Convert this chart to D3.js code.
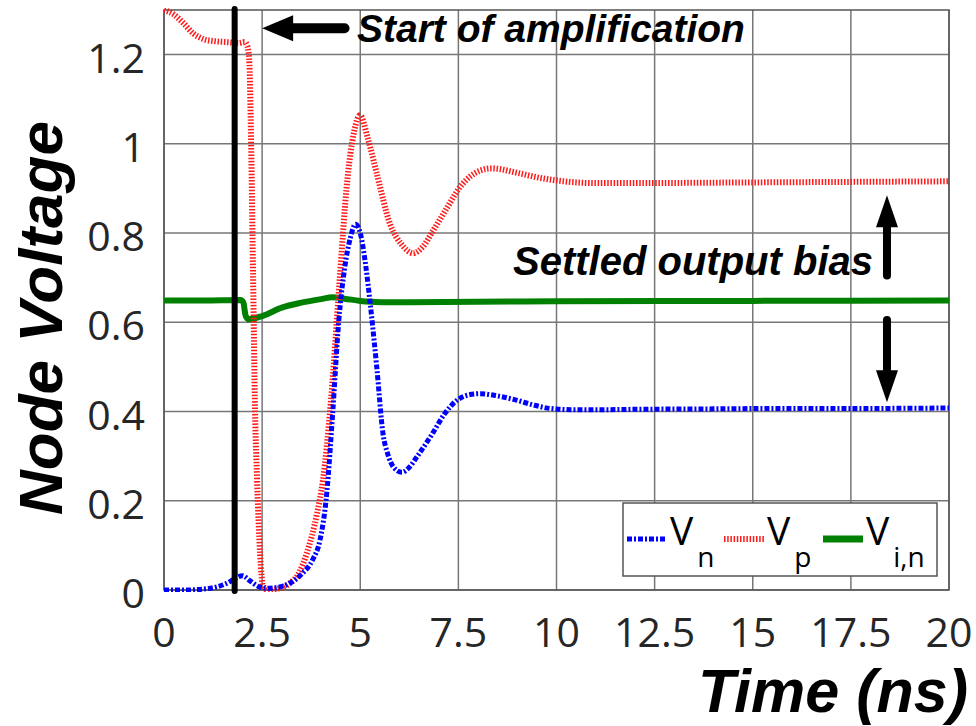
<!DOCTYPE html>
<html>
<head>
<meta charset="utf-8">
<script src="https://cdn.jsdelivr.net/npm/d3@7"></script>
<style>
  body { margin: 0; background: #fff; }
  svg { display: block; }
</style>
</head>
<body>
<svg id="chart" width="976" height="726"></svg>
<script>
// Time axis (ns) and node voltages.
const xTicks = [0, 2.5, 5, 7.5, 10, 12.5, 15, 17.5, 20];
const yTicks = [0, 0.2, 0.4, 0.6, 0.8, 1, 1.2];

const tVn = [0, 0.5, 1.0, 1.3, 1.6, 1.8, 2.0, 2.2, 2.4, 2.6, 2.9, 3.2, 3.5, 3.8, 3.97, 4.15, 4.3, 4.45, 4.6, 4.75, 4.88, 5.0, 5.15, 5.25, 5.42, 5.58, 5.7, 5.85, 6.06, 6.25, 6.44, 6.85, 7.15, 7.46, 7.75, 8.05, 8.5, 9.0, 9.4, 9.83, 10.5, 11, 12, 14, 16, 18, 20];
const vn  = [0, 0, 0.002, 0.006, 0.015, 0.025, 0.032, 0.02, 0.008, 0.004, 0.006, 0.015, 0.035, 0.07, 0.11, 0.22, 0.4, 0.6, 0.72, 0.79, 0.82, 0.8, 0.72, 0.645, 0.5, 0.35, 0.305, 0.275, 0.264, 0.275, 0.298, 0.352, 0.395, 0.425, 0.437, 0.44, 0.435, 0.425, 0.415, 0.407, 0.404, 0.404, 0.405, 0.406, 0.407, 0.407, 0.408];

const tVp = [0, 0.25, 0.5, 0.75, 1.0, 1.3, 1.6, 1.9, 2.05, 2.12, 2.17, 2.22, 2.27, 2.32, 2.37, 2.45, 2.52, 2.65, 2.9, 3.2, 3.45, 3.64, 3.9, 4.05, 4.25, 4.48, 4.65, 4.85, 4.99, 5.2, 5.42, 5.76, 6.05, 6.35, 6.6, 6.86, 7.2, 7.54, 8.05, 8.35, 9.0, 9.5, 10, 11, 12, 14, 16, 18, 20];
const vp  = [1.3, 1.29, 1.27, 1.247, 1.235, 1.23, 1.228, 1.226, 1.228, 1.22, 1.19, 1.0, 0.7, 0.4, 0.25, 0.08, 0.01, 0.0, 0.003, 0.015, 0.04, 0.083, 0.172, 0.246, 0.42, 0.70, 0.9, 1.03, 1.064, 1.01, 0.934, 0.82, 0.775, 0.755, 0.77, 0.806, 0.855, 0.903, 0.94, 0.945, 0.935, 0.925, 0.918, 0.912, 0.912, 0.913, 0.914, 0.915, 0.916];

const tVin = [0, 1.0, 1.95, 2.02, 2.08, 2.15, 2.5, 3.0, 3.5, 4.0, 4.3, 4.6, 5.0, 5.3, 5.6, 6, 8, 10, 15, 20];
const vin  = [0.649, 0.649, 0.65, 0.645, 0.615, 0.607, 0.614, 0.633, 0.644, 0.652, 0.656, 0.653, 0.648, 0.646, 0.645, 0.645, 0.646, 0.647, 0.648, 0.649];

const startT = 1.8;

const svg = d3.select("#chart");
const x = d3.scaleLinear().domain([0, 20]).range([164, 949]);
const y = d3.scaleLinear().domain([0, 1.3]).range([590, 10]);

const tickFont = "'Open Sans', 'Noto Sans', sans-serif";
const boldFont = "'Liberation Sans', Arial, sans-serif";

// grid
svg.append("g")
  .selectAll("line")
  .data(xTicks)
  .join("line")
  .attr("x1", d => x(d)).attr("x2", d => x(d))
  .attr("y1", y(1.3)).attr("y2", y(0))
  .attr("stroke", "#777").attr("stroke-width", 1.5);
svg.append("g")
  .selectAll("line")
  .data(yTicks)
  .join("line")
  .attr("x1", x(0)).attr("x2", x(20))
  .attr("y1", d => y(d)).attr("y2", d => y(d))
  .attr("stroke", "#777").attr("stroke-width", 1.5);
svg.append("rect")
  .attr("x", x(0)).attr("y", y(1.3))
  .attr("width", x(20) - x(0)).attr("height", y(0) - y(1.3))
  .attr("fill", "none").attr("stroke", "#555").attr("stroke-width", 1.5);

// tick labels
svg.append("g")
  .selectAll("text")
  .data(xTicks)
  .join("text")
  .attr("x", d => x(d)).attr("y", 647)
  .attr("text-anchor", "middle")
  .attr("font-family", tickFont).attr("font-size", 41)
  .attr("fill", "#262626")
  .text(d => d3.format("~g")(d));
svg.append("g")
  .selectAll("text")
  .data(yTicks)
  .join("text")
  .attr("x", 145).attr("y", d => y(d) + 18)
  .attr("text-anchor", "end")
  .attr("font-family", tickFont).attr("font-size", 41)
  .attr("fill", "#262626")
  .text(d => d3.format("~g")(d));

// axis titles
svg.append("text")
  .attr("transform", "translate(62,318) rotate(-90)")
  .attr("text-anchor", "middle")
  .attr("font-family", boldFont).attr("font-size", 62)
  .attr("font-weight", "bold").attr("font-style", "italic")
  .text("Node Voltage");
svg.append("text")
  .attr("x", 968).attr("y", 712)
  .attr("text-anchor", "end")
  .attr("font-family", boldFont).attr("font-size", 61)
  .attr("font-weight", "bold").attr("font-style", "italic")
  .text("Time (ns)");

// curves
svg.append("clipPath").attr("id", "plotClip")
  .append("rect")
  .attr("x", x(0)).attr("y", y(1.3) - 2)
  .attr("width", x(20) - x(0)).attr("height", y(0) - y(1.3) + 4);

const line = d3.line()
  .x(d => x(d[0])).y(d => y(d[1]))
  .curve(d3.curveMonotoneX);

const curves = svg.append("g").attr("clip-path", "url(#plotClip)");
curves.append("path")
  .datum(d3.zip(tVin, vin))
  .attr("d", line)
  .attr("fill", "none").attr("stroke", "#008000").attr("stroke-width", 6);
curves.append("path")
  .datum(d3.zip(tVp, vp))
  .attr("d", line)
  .attr("fill", "none").attr("stroke", "#ff1a1a").attr("stroke-width", 6)
  .attr("stroke-dasharray", "1.5,1.7");
curves.append("path")
  .datum(d3.zip(tVn, vn))
  .attr("d", line)
  .attr("fill", "none").attr("stroke", "#0000ff").attr("stroke-width", 5)
  .attr("stroke-dasharray", "5,2,2,2");

// start of amplification marker
svg.append("line")
  .attr("x1", x(startT)).attr("x2", x(startT))
  .attr("y1", 9).attr("y2", 591)
  .attr("stroke", "#000").attr("stroke-width", 6)
  .attr("stroke-linecap", "round");

function arrow(x1, y1, x2, y2, shaft, headLen, headHalf) {
  const dx = x2 - x1, dy = y2 - y1;
  const len = Math.hypot(dx, dy);
  const ux = dx / len, uy = dy / len;
  const bx = x2 - ux * headLen, by = y2 - uy * headLen;
  svg.append("line")
    .attr("x1", x1).attr("y1", y1).attr("x2", bx + ux * 2).attr("y2", by + uy * 2)
    .attr("stroke", "#000").attr("stroke-width", shaft)
    .attr("stroke-linecap", "round");
  svg.append("path")
    .attr("d", `M${x2},${y2}L${bx - uy * headHalf},${by + ux * headHalf}L${bx + uy * headHalf},${by - ux * headHalf}Z`)
    .attr("fill", "#000");
}

arrow(x(4.6), y(1.259), x(2.5), y(1.259), 10, 31, 13);
svg.append("text")
  .attr("x", 357).attr("y", 42)
  .attr("font-family", boldFont).attr("font-size", 39)
  .attr("font-weight", "bold").attr("font-style", "italic")
  .text("Start of amplification");

arrow(x(18.42), y(0.705), x(18.42), y(0.885), 8, 32, 11);
arrow(x(18.42), y(0.605), x(18.42), y(0.421), 8, 32, 11);
svg.append("text")
  .attr("x", 873).attr("y", 275)
  .attr("text-anchor", "end")
  .attr("font-family", boldFont).attr("font-size", 40)
  .attr("font-weight", "bold").attr("font-style", "italic")
  .text("Settled output bias");

// legend
const legend = svg.append("g");
legend.append("rect")
  .attr("x", 623).attr("y", 503).attr("width", 314).attr("height", 73)
  .attr("fill", "#fff").attr("stroke", "#555").attr("stroke-width", 1.5);
const legendItems = [
  {sub: "n", color: "#0000ff", dash: "5,2,2,2", w: 5, x0: 627},
  {sub: "p", color: "#ff1a1a", dash: "1.5,1.7", w: 6, x0: 724},
  {sub: "i,n", color: "#008000", dash: null, w: 7, x0: 823}
];
legendItems.forEach(it => {
  legend.append("line")
    .attr("x1", it.x0).attr("x2", it.x0 + 40)
    .attr("y1", 539).attr("y2", 539)
    .attr("stroke", it.color).attr("stroke-width", it.w)
    .attr("stroke-dasharray", it.dash);
  const t = legend.append("text")
    .attr("x", it.x0 + 43).attr("y", 545)
    .attr("font-family", tickFont).attr("font-size", 39)
    .attr("fill", "#000");
  t.append("tspan").text("V");
  t.append("tspan").attr("dx", 4).attr("dy", 22)
    .attr("font-size", 28).text(it.sub);
});
</script>
</body>
</html>
